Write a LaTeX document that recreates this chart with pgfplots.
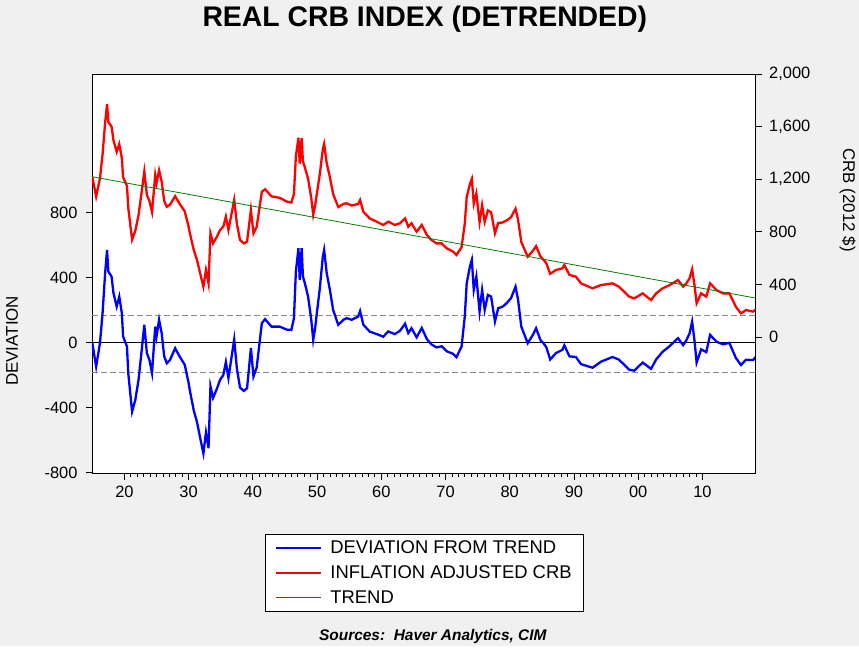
\documentclass[border=0pt]{standalone}
\usepackage{fontspec}
\setmainfont{Liberation Sans}
\usepackage{pgfplots}
\pgfplotsset{compat=1.18}
\usepackage{pgfplotstable}
\definecolor{bg}{RGB}{240,240,240}
\definecolor{trendgreen}{RGB}{0,128,0}
\definecolor{dashgray}{RGB}{140,140,140}

\pgfplotstableread{
year crb
1915.0 1219
1915.6 1068
1916.2 1208
1916.6 1388
1917.0 1630
1917.3 1770
1917.5 1636
1918.0 1600
1918.3 1496
1918.8 1408
1919.2 1467
1919.6 1361
1919.8 1215
1920.4 1148
1920.6 983
1921.2 741
1921.7 808
1922.2 927
1922.7 1107
1923.1 1258
1923.5 1080
1923.9 1034
1924.3 950
1924.8 1231
1925.0 1169
1925.4 1268
1925.8 1182
1926.2 1035
1926.6 990
1927.1 1006
1927.9 1071
1928.6 1013
1929.4 955
1930.0 837
1930.2 788
1930.8 662
1931.3 586
1931.8 484
1932.3 383
1932.7 510
1933.1 408
1933.4 788
1933.8 712
1934.4 763
1934.9 814
1935.4 839
1935.8 915
1936.2 814
1936.7 941
1937.1 1042
1937.5 865
1938.0 738
1938.6 712
1939.1 725
1939.7 966
1940.1 788
1940.6 839
1941.4 1104
1941.9 1124
1942.9 1070
1944.2 1058
1945.3 1029
1946.0 1022
1946.4 1090
1946.7 1375
1947.1 1515
1947.3 1318
1947.6 1511
1947.8 1334
1948.1 1290
1948.6 1204
1949.1 1056
1949.4 930
1949.7 999
1949.9 1069
1950.4 1229
1950.9 1429
1951.1 1468
1951.5 1322
1952.0 1214
1952.5 1087
1953.3 988
1954.1 1012
1954.6 1017
1955.4 1000
1956.4 1011
1956.7 1042
1957.2 953
1958.2 902
1959.3 877
1960.3 852
1961.1 877
1962.1 852
1962.9 865
1963.7 902
1964.2 839
1964.7 865
1965.5 801
1966.3 852
1967.1 776
1967.8 738
1968.6 712
1969.4 712
1970.2 674
1971.2 649
1971.7 624
1972.5 682
1973.0 863
1973.3 1065
1973.8 1163
1974.1 1202
1974.4 1014
1974.8 1092
1975.3 873
1975.7 1002
1976.1 876
1976.6 963
1977.1 949
1977.7 789
1978.2 867
1978.9 871
1979.5 886
1980.2 911
1980.9 976
1981.3 891
1981.8 722
1982.3 666
1982.8 611
1983.6 655
1984.1 691
1984.8 611
1985.3 586
1985.7 560
1986.3 480
1987.2 510
1988.2 522
1988.5 547
1989.3 472
1990.3 459
1991.1 408
1992.9 370
1994.2 395
1996.0 408
1997.0 383
1998.6 307
1999.4 294
2000.7 332
2002.0 281
2002.8 332
2003.8 370
2004.9 395
2006.2 433
2007.0 383
2007.5 408
2008.0 446
2008.4 515
2008.8 383
2009.1 256
2009.8 332
2010.6 307
2011.2 408
2012.2 357
2013.2 332
2014.2 332
2015.2 231
2016.0 180
2016.8 205
2017.9 193
2018.3 210
}\crbdata

\pgfplotstableread{
year dev
1915.0 0
1915.6 -146
1916.2 0
1916.6 183
1917.0 429
1917.3 572
1917.5 439
1918.0 408
1918.3 306
1918.8 223
1919.2 285
1919.6 183
1919.8 39
1920.4 -23
1920.6 -186
1921.2 -423
1921.7 -351
1922.2 -228
1922.7 -43
1923.1 111
1923.5 -63
1923.9 -105
1924.3 -186
1924.8 100
1925.0 39
1925.4 142
1925.8 60
1926.2 -84
1926.6 -125
1927.1 -105
1927.9 -33
1928.6 -84
1929.4 -135
1930.0 -248
1930.2 -295
1930.8 -416
1931.3 -487
1931.8 -585
1932.3 -681
1932.7 -551
1933.1 -649
1933.4 -267
1933.8 -339
1934.4 -283
1934.9 -227
1935.4 -198
1935.8 -118
1936.2 -216
1936.7 -84
1937.1 21
1937.5 -153
1938.0 -275
1938.6 -296
1939.1 -279
1939.7 -32
1940.1 -207
1940.6 -151
1941.4 121
1941.9 146
1942.9 100
1944.2 100
1945.3 81
1946.0 80
1946.4 152
1946.7 439
1947.1 583
1947.3 388
1947.6 583
1947.8 408
1948.1 367
1948.6 285
1949.1 142
1949.4 18
1949.7 90
1949.9 162
1950.4 326
1950.9 531
1951.1 572
1951.5 429
1952.0 326
1952.5 203
1953.3 111
1954.1 142
1954.6 152
1955.4 142
1956.4 162
1956.7 196
1957.2 112
1958.2 69
1959.3 54
1960.3 38
1961.1 70
1962.1 54
1962.9 74
1963.7 118
1964.2 60
1964.7 90
1965.5 34
1966.3 92
1967.1 23
1967.8 -9
1968.6 -28
1969.4 -21
1970.2 -52
1971.2 -68
1971.7 -88
1972.5 -23
1973.0 162
1973.3 367
1973.8 470
1974.1 511
1974.4 326
1974.8 408
1975.3 193
1975.7 326
1976.1 203
1976.6 295
1977.1 285
1977.7 131
1978.2 213
1978.9 223
1979.5 244
1980.2 275
1980.9 346
1981.3 265
1981.8 100
1982.3 49
1982.8 -2
1983.6 49
1984.1 90
1984.8 16
1985.3 -5
1985.7 -27
1986.3 -102
1987.2 -63
1988.2 -43
1988.5 -15
1989.3 -83
1990.3 -87
1991.1 -131
1992.9 -153
1994.2 -116
1996.0 -87
1997.0 -103
1998.6 -165
1999.4 -171
2000.7 -121
2002.0 -160
2002.8 -102
2003.8 -55
2004.9 -20
2006.2 29
2007.0 -14
2007.5 16
2008.0 58
2008.4 131
2008.8 3
2009.1 -122
2009.8 -40
2010.6 -57
2011.2 49
2012.2 7
2013.2 -9
2014.2 0
2015.2 -92
2016.0 -136
2016.8 -104
2017.9 -106
2018.3 -86
}\devdata

\begin{document}
\begin{tikzpicture}
\fill[bg] (0bp,0bp) rectangle (859bp,646bp);
\node[font=\fontsize{28.5}{30}\selectfont\bfseries] at (425bp,627bp) {REAL CRB INDEX (DETRENDED)};
\node[font=\fontsize{17}{18}\selectfont, rotate=90] at (12bp,305bp) {DEVIATION};
\node[font=\fontsize{17}{18}\selectfont, rotate=-90] at (848bp,446bp) {CRB (2012 \$)};
\node[font=\fontsize{15.5}{16}\selectfont\bfseries\itshape] at (433bp,9bp) {Sources:\ \ Haver Analytics, CIM};

\begin{axis}[
  at={(92bp,172bp)}, anchor=south west, scale only axis,
  width=664bp, height=400bp,
  xmin=1914.95, xmax=2018.3, ymin=-806, ymax=1655,
  axis background/.style={fill=white},
  axis line style={line width=0.8bp},
  xtick={1920,1930,...,2010},
  xticklabels={20,30,40,50,60,70,80,90,00,10},
  minor x tick num=9,
  ytick={-800,-400,0,400,800},
  yticklabels={-800,-400,0,400,800},
  xtick pos=left, ytick pos=left,
  tick align=outside,
  major tick length=6bp, minor tick length=3bp,
  every tick/.style={black, line width=0.8bp},
  tick label style={font=\fontsize{16.5}{17}\selectfont},
  yticklabel style={xshift=-5bp},
  xticklabel style={yshift=-3bp},
]
\addplot[dashgray, line width=0.8bp, dash pattern=on 6bp off 3bp] coordinates {(1914.95,169) (2018.3,169)};
\addplot[dashgray, line width=0.8bp, dash pattern=on 6bp off 3bp] coordinates {(1914.95,-180) (2018.3,-180)};
\addplot[black, line width=0.8bp] coordinates {(1914.95,0) (2018.3,0)};
\addplot[blue, line width=2.3bp] table[x=year, y=dev] {\devdata};
\end{axis}

\begin{axis}[
  at={(92bp,172bp)}, anchor=south west, scale only axis,
  width=664bp, height=400bp,
  xmin=1914.95, xmax=2018.3, ymin=-1040, ymax=2000,
  axis x line=none, axis y line*=right,
  axis line style={line width=0.8bp},
  ytick={0,400,800,1200,1600,2000},
  yticklabels={0,400,800,{1,200},{1,600},{2,000}},
  tick align=outside,
  major tick length=6bp,
  every tick/.style={black, line width=0.8bp},
  tick label style={font=\fontsize{16.5}{17}\selectfont},
  yticklabel style={xshift=4bp},
  legend style={at={(0.5008,-0.15)}, anchor=north, draw=black, line width=0.8bp, fill=white,
    font=\fontsize{18.5}{18.5}\selectfont, inner xsep=9.5bp, inner ysep=4.5bp, row sep=6.5bp,
    /tikz/every odd column/.append style={column sep=6bp}},
  legend cell align=left,
  legend image code/.code={\draw[#1] (0bp,0bp) -- (45bp,0bp);},
]
\addlegendimage{blue, line width=2.3bp}
\addlegendentry{DEVIATION FROM TREND}
\addplot[red, line width=2.3bp] table[x=year, y=crb] {\crbdata};
\addlegendentry{INFLATION ADJUSTED CRB}
\addplot[trendgreen, line width=0.8bp] coordinates {(1914.95,1219) (2018.3,296)};
\addlegendentry{TREND}
\end{axis}
\end{tikzpicture}
\end{document}
